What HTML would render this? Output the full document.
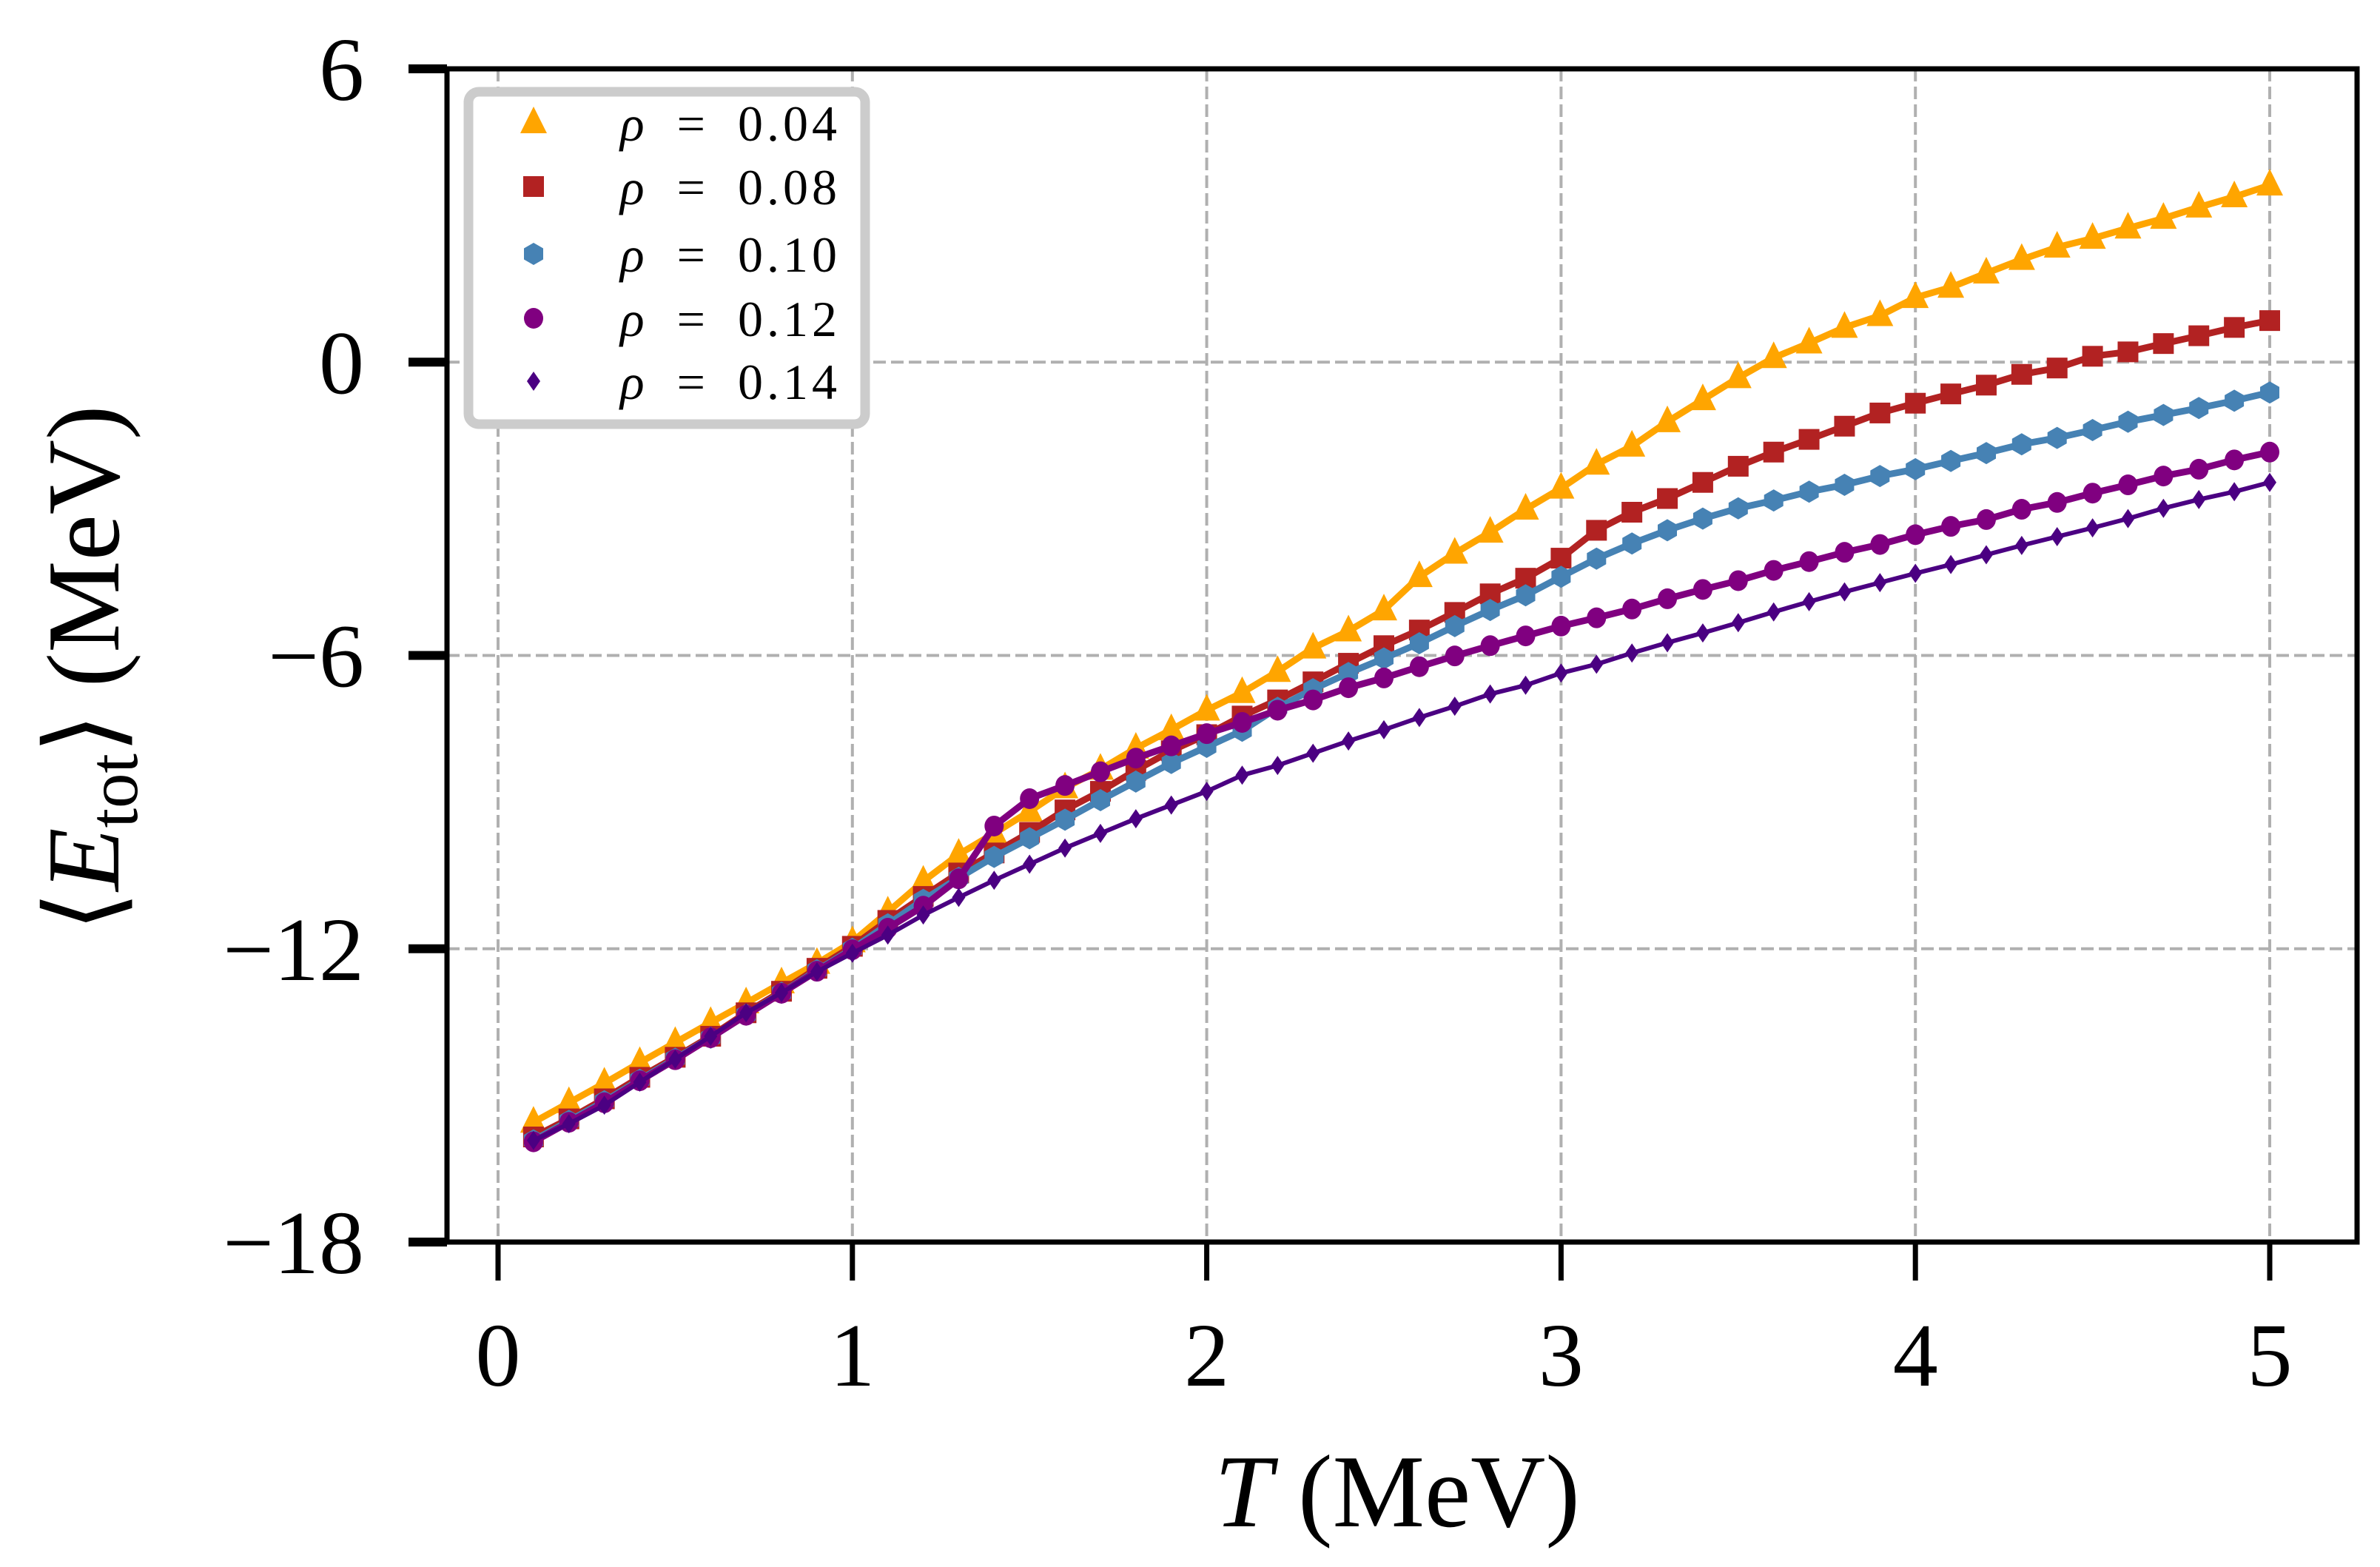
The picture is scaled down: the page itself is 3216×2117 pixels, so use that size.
<!DOCTYPE html>
<html><head><meta charset="utf-8"><style>
html,body{margin:0;padding:0;background:#fff;}
svg{display:block;}
text{font-family:"Liberation Serif",serif;fill:#000;}
</style></head><body>
<svg id="chart" width="3216" height="2117" viewBox="0 0 3216 2117" xmlns="http://www.w3.org/2000/svg">
<rect width="3216" height="2117" fill="#fff"/>
<g id="grid"></g>
<g id="series"></g>
<g id="axes"></g>
<g id="legend"></g>
</svg>
<script>
const temps = [0.1,0.2,0.3,0.4,0.5,0.6,0.7,0.8,0.9,1.0,1.1,1.2,1.3,1.4,1.5,1.6,1.7,1.8,1.9,2.0,2.1,2.2,2.3,2.4,2.5,2.6,2.7,2.8,2.9,3.0,3.1,3.2,3.3,3.4,3.5,3.6,3.7,3.8,3.9,4.0,4.1,4.2,4.3,4.4,4.5,4.6,4.7,4.8,4.9,5.0];
const rho004 = [-15.55,-15.15,-14.75,-14.33,-13.92,-13.51,-13.11,-12.70,-12.30,-11.86,-11.25,-10.62,-10.07,-9.64,-9.19,-8.71,-8.33,-7.90,-7.52,-7.12,-6.76,-6.33,-5.85,-5.50,-5.07,-4.39,-3.91,-3.48,-3.01,-2.58,-2.09,-1.72,-1.22,-0.77,-0.32,0.09,0.39,0.71,0.95,1.32,1.53,1.82,2.10,2.35,2.53,2.74,2.94,3.17,3.38,3.62];
const rho008 = [-15.85,-15.48,-15.07,-14.63,-14.22,-13.79,-13.31,-12.87,-12.40,-11.95,-11.42,-10.93,-10.45,-10.04,-9.62,-9.16,-8.78,-8.35,-7.95,-7.62,-7.24,-6.91,-6.54,-6.16,-5.80,-5.48,-5.12,-4.74,-4.42,-4.01,-3.44,-3.07,-2.79,-2.46,-2.13,-1.84,-1.58,-1.31,-1.04,-0.84,-0.65,-0.47,-0.25,-0.12,0.12,0.21,0.38,0.54,0.71,0.85];
const rho010 = [-15.92,-15.52,-15.12,-14.68,-14.25,-13.82,-13.35,-12.90,-12.44,-12.00,-11.50,-11.00,-10.55,-10.12,-9.74,-9.36,-8.96,-8.58,-8.20,-7.87,-7.54,-7.07,-6.69,-6.36,-6.06,-5.75,-5.40,-5.07,-4.77,-4.39,-4.02,-3.71,-3.44,-3.20,-2.99,-2.83,-2.65,-2.51,-2.33,-2.19,-2.02,-1.86,-1.68,-1.55,-1.39,-1.22,-1.08,-0.94,-0.79,-0.62];
const rho012 = [-15.95,-15.55,-15.15,-14.70,-14.27,-13.82,-13.36,-12.91,-12.46,-12.02,-11.58,-11.13,-10.57,-9.49,-8.93,-8.66,-8.38,-8.10,-7.85,-7.60,-7.37,-7.12,-6.91,-6.66,-6.46,-6.23,-6.01,-5.80,-5.60,-5.40,-5.23,-5.05,-4.84,-4.65,-4.47,-4.26,-4.08,-3.89,-3.73,-3.53,-3.36,-3.22,-3.01,-2.87,-2.68,-2.51,-2.33,-2.19,-2.00,-1.84];
const rho014 = [-15.92,-15.58,-15.20,-14.73,-14.26,-13.79,-13.31,-12.90,-12.47,-12.09,-11.72,-11.31,-10.95,-10.60,-10.27,-9.94,-9.64,-9.34,-9.06,-8.78,-8.45,-8.25,-8.00,-7.75,-7.52,-7.27,-7.04,-6.79,-6.61,-6.36,-6.18,-5.95,-5.74,-5.54,-5.33,-5.11,-4.90,-4.70,-4.51,-4.32,-4.14,-3.94,-3.75,-3.57,-3.39,-3.20,-2.99,-2.81,-2.65,-2.46];
const xTicks = [0,1,2,3,4,5];
const xTickLabels = ["0","1","2","3","4","5"];
const yTicks = [6,0,-6,-12,-18];
const yTickLabels = ["6","0","\u22126","\u221212","\u221218"];
const legendLabels = ["0.04","0.08","0.10","0.12","0.14"];

const NS="http://www.w3.org/2000/svg";
const L=604,R=3185,T=93,B=1678;
const X0=673,XU=478.8;
function xs(t){return X0+t*XU;}
function ys(v){return B-(v-(-18))*(B-T)/24;}
function mk(tag,attrs,parent){const e=document.createElementNS(NS,tag);for(const k in attrs)e.setAttribute(k,attrs[k]);parent.appendChild(e);return e;}

const grid=document.getElementById('grid');
xTicks.forEach(t=>{
  const g=mk('line',{x1:xs(t),x2:xs(t),y1:T,y2:B,stroke:'#b0b0b0','stroke-width':4,'stroke-dasharray':'17,7'},grid);
  
  
});
yTicks.forEach(v=>{
  const g=mk('line',{x1:L,x2:R,y1:ys(v),y2:ys(v),stroke:'#b0b0b0','stroke-width':4,'stroke-dasharray':'17,7'},grid);
  
  
});

const seriesDefs=[
 {vals:rho004,color:'#FFA500',lw:9,shape:'tri',name:'series-rho-0.04'},
 {vals:rho008,color:'#B22222',lw:9,shape:'sq',name:'series-rho-0.08'},
 {vals:rho010,color:'#4682B4',lw:9,shape:'hex',name:'series-rho-0.10'},
 {vals:rho012,color:'#800080',lw:9,shape:'circ',name:'series-rho-0.12'},
 {vals:rho014,color:'#4B0082',lw:6,shape:'dia',name:'series-rho-0.14'}
];
function marker(shape,x,y,color,parent){
  let e;
  if(shape==='tri'){e=mk('polygon',{points:`${x},${y-22} ${x-18},${y+14} ${x+18},${y+14}`,fill:color},parent);}
  else if(shape==='sq'){e=mk('rect',{x:x-14,y:y-14,width:28,height:28,fill:color},parent);}
  else if(shape==='hex'){const r=15;let p=[];for(let i=0;i<6;i++){const a=Math.PI/2+i*Math.PI/3;p.push((x+r*Math.cos(a)).toFixed(1)+','+(y+r*Math.sin(a)).toFixed(1));}e=mk('polygon',{points:p.join(' '),fill:color},parent);}
  else if(shape==='circ'){e=mk('ellipse',{cx:x,cy:y,rx:13,ry:14,fill:color},parent);}
  else {e=mk('polygon',{points:`${x},${y-13} ${x+9},${y} ${x},${y+13} ${x-9},${y}`,fill:color},parent);}
  return e;
}
const sg=document.getElementById('series');
seriesDefs.forEach(s=>{
  const g=mk('g',{},sg);
  
  
  const pts=temps.map((t,i)=>xs(t).toFixed(1)+','+ys(s.vals[i]).toFixed(1)).join(' ');
  const pl=mk('polyline',{points:pts,fill:'none',stroke:s.color,'stroke-width':s.lw,'stroke-linejoin':'round'},g);
  
  
  temps.forEach((t,i)=>{
    const m=marker(s.shape,xs(t),ys(s.vals[i]),s.color,g);
    
    
  });
});

const ax=document.getElementById('axes');
const frame=mk('rect',{x:L,y:T,width:R-L,height:B-T,fill:'none',stroke:'#000','stroke-width':7},ax);


xTicks.forEach((t,i)=>{
  const tk=mk('line',{x1:xs(t),x2:xs(t),y1:B,y2:B+52,stroke:'#000','stroke-width':7},ax);
  
  
  const tl=mk('text',{x:xs(t),y:1872,'font-size':122,'text-anchor':'middle'},ax);
  tl.textContent=xTickLabels[i];
  
  
});
yTicks.forEach((v,i)=>{
  const tk=mk('line',{x1:L-52,x2:L,y1:ys(v),y2:ys(v),stroke:'#000','stroke-width':12},ax);
  
  
  const tl=mk('text',{x:492,y:ys(v)+42,'font-size':122,'text-anchor':'end'},ax);
  tl.textContent=yTickLabels[i];
  
  
});
const xl=mk('text',{x:1888,y:2062,'font-size':140,'text-anchor':'middle'},ax);
xl.innerHTML='<tspan font-style="italic">T</tspan> (MeV)';


const yl=mk('text',{x:0,y:0,'font-size':140,'text-anchor':'middle',transform:'translate(160,903) rotate(-90)'},ax);
yl.innerHTML='\u27E8<tspan font-style="italic">E</tspan><tspan font-size="95" dy="25">tot</tspan><tspan dy="-25">\u27E9 (MeV)</tspan>';



const lg=document.getElementById('legend');
const box=mk('rect',{x:633,y:124,width:536,height:449,rx:14,fill:'#fff',stroke:'#cccccc','stroke-width':13},lg);


const ly=[166,252,343,430,515];
seriesDefs.forEach((s,i)=>{
  const g=mk('g',{},lg);
  
  
  const m=marker(s.shape,721,ly[i],s.color,g);
  
  
  const t=mk('text',{x:838,y:ly[i]+24,'font-size':68,'letter-spacing':'5'},g);
  t.innerHTML='<tspan font-style="italic">\u03C1</tspan>\u2002=\u2002'+legendLabels[i];
  
  
});
</script>
</body></html>
